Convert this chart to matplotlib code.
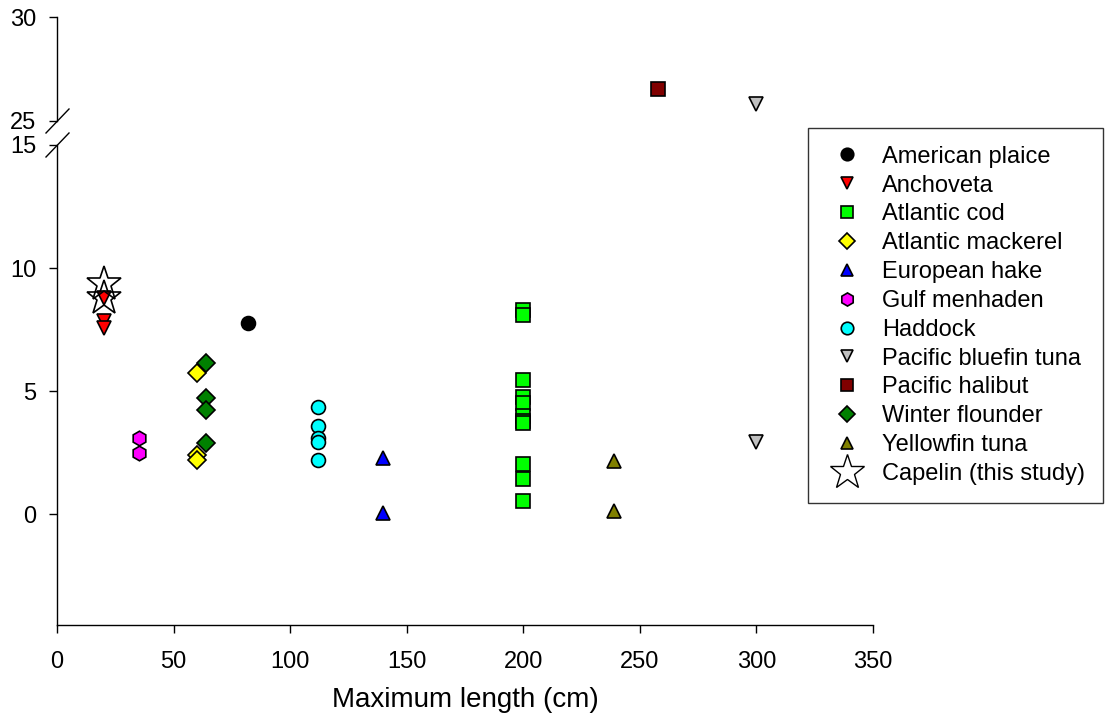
import matplotlib
matplotlib.use("Agg")
import matplotlib.pyplot as plt
from matplotlib.lines import Line2D

plt.rcParams['font.family'] = ['Liberation Sans', 'DejaVu Sans']

# maximum length (cm) and values per species
species = ["American plaice", "Anchoveta", "Atlantic cod", "Atlantic mackerel",
           "European hake", "Gulf menhaden", "Haddock", "Pacific bluefin tuna",
           "Pacific halibut", "Winter flounder", "Yellowfin tuna",
           "Capelin (this study)"]

plaice_x = [82]
plaice_y = [7.75]
anchoveta_x = [20, 20, 20]
anchoveta_y = [8.8, 7.85, 7.55]
cod_x = [200] * 11
cod_y = [8.3, 8.1, 5.45, 4.75, 4.5, 4.0, 3.8, 3.7, 2.05, 1.45, 0.55]
mackerel_x = [60, 60, 60]
mackerel_y = [5.75, 2.4, 2.2]
hake_x = [140, 140]
hake_y = [2.3, 0.05]
menhaden_x = [35, 35]
menhaden_y = [3.1, 2.5]
haddock_x = [112, 112, 112, 112, 112]
haddock_y = [4.35, 3.58, 3.1, 2.95, 2.2]
bluefin_x = [300, 300]
bluefin_y = [25.8, 2.93]
halibut_x = [258]
halibut_y = [26.55]
flounder_x = [64, 64, 64, 64]
flounder_y = [6.15, 4.72, 4.22, 2.88]
yellowfin_x = [239, 239]
yellowfin_y = [2.15, 0.12]
capelin_x = [20, 20]
capelin_y = [9.35, 8.8]

series = [
    (plaice_x, plaice_y, "o", "black", 10),
    (anchoveta_x, anchoveta_y, "v", "#FF0000", 10),
    (cod_x, cod_y, "s", "#00FF00", 9.8),
    (mackerel_x, mackerel_y, "D", "#FFFF00", 8.8),
    (hake_x, hake_y, "^", "#0000FF", 10),
    (menhaden_x, menhaden_y, "h", "#FF00FF", 10.5),
    (haddock_x, haddock_y, "o", "#00FFFF", 10),
    (bluefin_x, bluefin_y, "v", "#C0C0C0", 10),
    (halibut_x, halibut_y, "s", "#800000", 9.8),
    (flounder_x, flounder_y, "D", "#008000", 8.8),
    (yellowfin_x, yellowfin_y, "^", "#808000", 10),
]

fig = plt.figure(figsize=(11.06, 7.21), dpi=100)
ax_top = fig.add_axes([0.0515, 0.8322, 0.7378, 0.1442])
ax = fig.add_axes([0.0515, 0.1331, 0.7378, 0.6658])

handles = []
for a in (ax_top, ax):
    for (xs, ys, m, c, ms), name in zip(series, species):
        a.plot(xs, ys, linestyle="none", marker=m, markersize=ms,
               markerfacecolor=c, markeredgecolor="black", markeredgewidth=1.2,
               zorder=3)
    a.plot(capelin_x, capelin_y, linestyle="none", marker="*", markersize=26,
           markerfacecolor="none", markeredgecolor="black",
           markeredgewidth=1.2, zorder=4)

for (xs, ys, m, c, ms), name in zip(series, species):
    handles.append(Line2D([], [], linestyle="none", marker=m, markersize=ms * 0.9,
                          markerfacecolor=c, markeredgecolor="black",
                          markeredgewidth=1.2, label=name))
handles.append(Line2D([], [], linestyle="none", marker="*", markersize=26,
                      markerfacecolor="white", markeredgecolor="black",
                      markeredgewidth=1.0, label=species[-1]))

# bottom panel
ax.set_xlim(0, 350)
ax.set_ylim(-4.5, 15)
ax.set_xticks(range(0, 351, 50))
ax.set_yticks([0, 5, 10, 15])
ax.spines["top"].set_visible(False)
ax.spines["right"].set_visible(False)
ax.set_xlabel("Maximum length (cm)", fontsize=20, labelpad=10)

# top panel
ax_top.set_xlim(0, 350)
ax_top.set_ylim(25, 30)
ax_top.set_yticks([25, 30])
ax_top.set_xticks([])
for s in ("top", "right", "bottom"):
    ax_top.spines[s].set_visible(False)

for a in (ax_top, ax):
    a.tick_params(direction="out", length=6, width=1, labelsize=17)
    a.tick_params(axis="y", pad=9)
    a.spines["left"].set_linewidth(1)
    a.spines["bottom"].set_linewidth(1)
ax.tick_params(axis="x", pad=13)

# break marks on the y axis
x0 = 57 / 1106
for yb in (121, 145):
    yf = 1 - yb / 721
    fig.add_artist(Line2D([x0 - 11 / 1106, x0 + 12 / 1106],
                          [yf - 12 / 721, yf + 12 / 721],
                          color="black", linewidth=1))

leg = fig.legend(handles=handles, loc="upper left",
                 bbox_to_anchor=(808 / 1106, 1 - 128 / 721),
                 borderaxespad=0, frameon=True, fancybox=False,
                 fontsize=17, labelspacing=0.29, handlelength=1.8,
                 handletextpad=0.6, borderpad=0.75)
leg.get_frame().set_edgecolor("black")
leg.get_frame().set_linewidth(1)

fig.savefig("out.png", dpi=100)
